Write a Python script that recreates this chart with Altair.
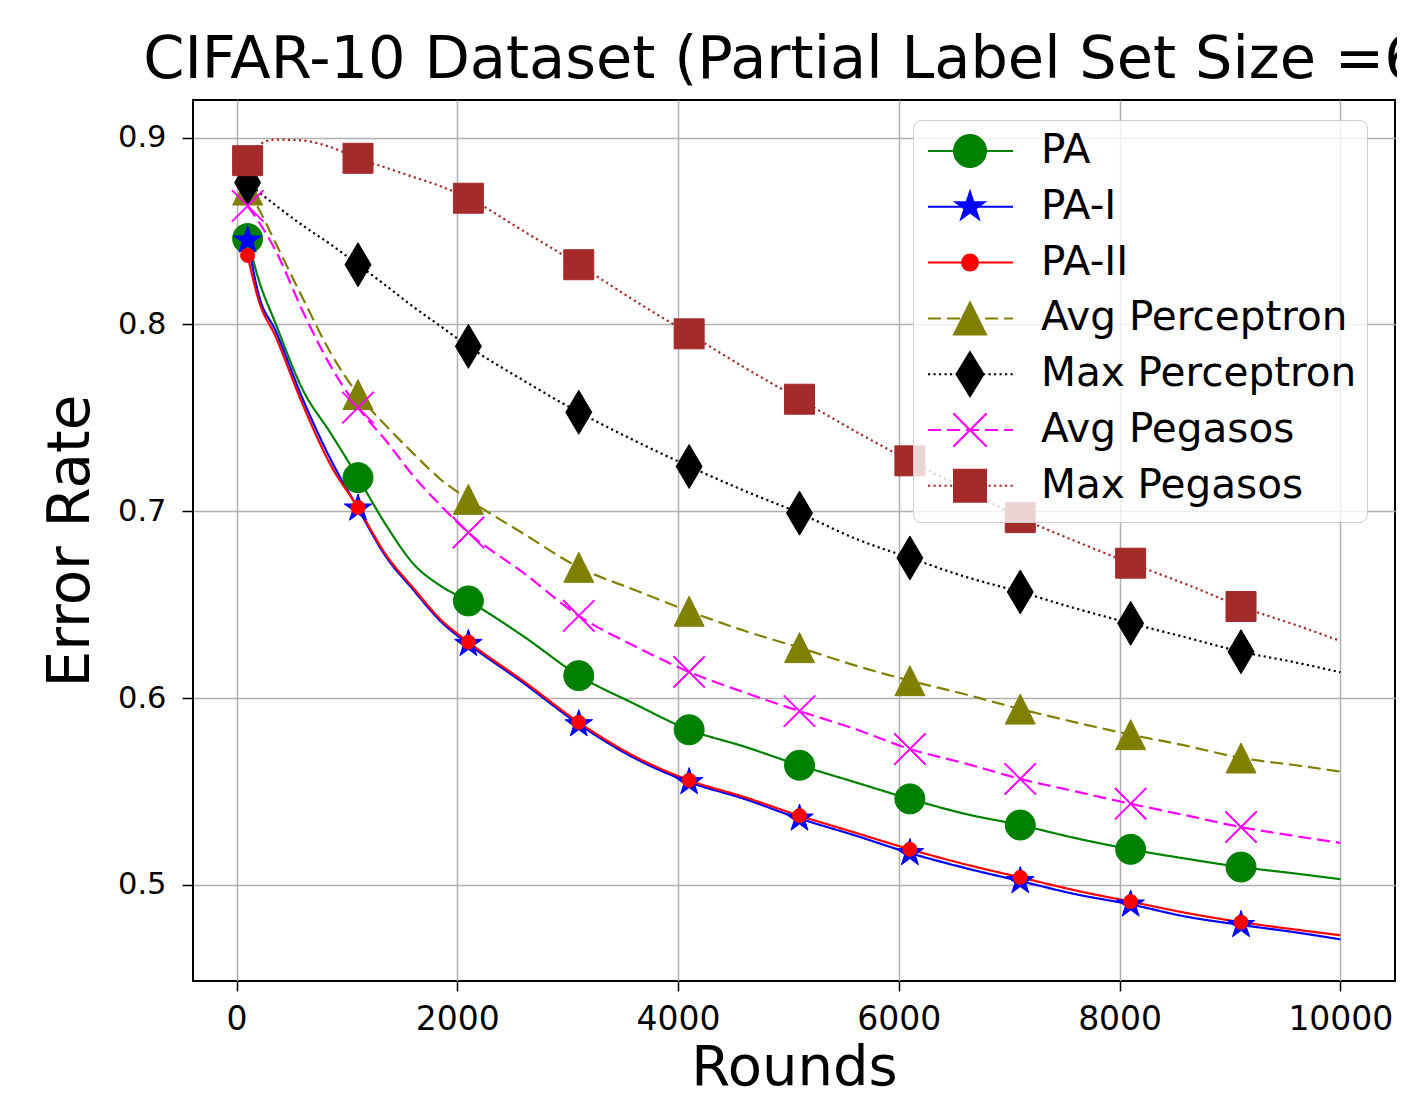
import math
import altair as alt
import pandas as pd

# ---------------- data ----------------
SERIES = ["PA", "PA-I", "PA-II", "Avg Perceptron", "Max Perceptron", "Avg Pegasos", "Max Pegasos"]
ROUNDS = [100, 200, 350, 600, 850, 1100, 1350, 1600, 1850, 2100, 2600, 3100, 3600, 4100,
          4600, 5100, 5600, 6100, 6600, 7100, 7600, 8100, 8600, 9100, 9600, 10000]
MARKER_ROUNDS = [100, 1100, 2100, 3100, 4100, 5100, 6100, 7100, 8100, 9100]

PA = [0.846, 0.824, 0.801, 0.765, 0.742, 0.718, 0.693, 0.672, 0.660, 0.652, 0.633, 0.612, 0.597,
      0.583, 0.574, 0.564, 0.555, 0.546, 0.538, 0.532, 0.525, 0.519, 0.514, 0.5095, 0.506, 0.503]
PA_I = [0.845, 0.816, 0.797, 0.760, 0.728, 0.7015, 0.676, 0.658, 0.641, 0.629, 0.608, 0.586, 0.568,
        0.555, 0.546, 0.5355, 0.5265, 0.517, 0.509, 0.502, 0.495, 0.4895, 0.483, 0.4785, 0.4745, 0.4708]
PA_II = [0.837, 0.813, 0.794, 0.757, 0.725, 0.702, 0.677, 0.659, 0.642, 0.630, 0.609, 0.587, 0.569,
         0.556, 0.547, 0.537, 0.528, 0.519, 0.511, 0.504, 0.497, 0.491, 0.485, 0.480, 0.476, 0.473]
AVG_PERCEPTRON = [0.872, 0.862, 0.844, 0.814, 0.785, 0.7625, 0.746, 0.731, 0.717, 0.7064, 0.688, 0.670,
                  0.658, 0.6465, 0.636, 0.627, 0.6175, 0.6093, 0.602, 0.5941, 0.587, 0.5804, 0.5745,
                  0.5679, 0.564, 0.5606]
MAX_PERCEPTRON = [0.876, 0.871, 0.864, 0.853, 0.843, 0.832, 0.821, 0.8095, 0.799, 0.7883, 0.770, 0.753,
                  0.738, 0.724, 0.711, 0.699, 0.6855, 0.675, 0.665, 0.6568, 0.648, 0.640, 0.6325,
                  0.6248, 0.619, 0.6138]
AVG_PEGASOS = [0.8635, 0.855, 0.840, 0.807, 0.778, 0.7555, 0.738, 0.719, 0.703, 0.6886, 0.667, 0.644,
               0.628, 0.614, 0.603, 0.593, 0.5835, 0.5727, 0.565, 0.5567, 0.550, 0.5434, 0.5372,
               0.5309, 0.526, 0.5225]
MAX_PEGASOS = [0.8877, 0.896, 0.899, 0.8985, 0.895, 0.889, 0.884, 0.879, 0.874, 0.8676, 0.850, 0.832,
               0.813, 0.795, 0.777, 0.760, 0.743, 0.727, 0.712, 0.6966, 0.684, 0.6722, 0.661, 0.649,
               0.639, 0.6306]

VALUES = [PA, PA_I, PA_II, AVG_PERCEPTRON, MAX_PERCEPTRON, AVG_PEGASOS, MAX_PEGASOS]
X_TICKS = [0, 2000, 4000, 6000, 8000, 10000]
Y_TICKS = [0.5, 0.6, 0.7, 0.8, 0.9]

# ---------------- styles ----------------
COLORS = ["#008000", "#0000ff", "#ff0000", "#808000", "#000000", "#ff00ff", "#a52a2a"]
DASH = [13, 6]
DOT = [2.2, 3.3]
DASHES = [[1, 0], [1, 0], [1, 0], DASH, DOT, DASH, DOT]


def circle(r, cx=0.0):
    return (f"M{cx + r:.3f},0A{r:.3f},{r:.3f},0,1,1,{cx - r:.3f},0"
            f"A{r:.3f},{r:.3f},0,1,1,{cx + r:.3f},0Z")


def poly(pts, cx=0.0):
    return "M" + "L".join(f"{cx + x:.3f},{y:.3f}" for x, y in pts) + "Z"


def star(R, cx=0.0):
    pts = []
    for k in range(10):
        rad = R if k % 2 == 0 else R * 0.382
        a = math.radians(-90 + 36 * k)
        pts.append((rad * math.cos(a), rad * math.sin(a)))
    return poly(pts, cx)


def xpoly(h, t, cx=0.0):
    L = h * math.sqrt(2)
    plus = [(-t, -L), (t, -L), (t, -t), (L, -t), (L, t), (t, t), (t, L), (-t, L), (-t, t),
            (-L, t), (-L, -t), (-t, -t)]
    c, s = math.cos(math.pi / 4), math.sin(math.pi / 4)
    return poly([(x * c - y * s, x * s + y * c) for x, y in plus], cx)


def seg_line(x0, x1, pattern, scale):
    if pattern is None:
        return f"M{x0:.3f},0H{x1:.3f}"
    on, off = pattern[0] / scale, pattern[1] / scale
    out, x = [], x0
    while x < x1 - 1e-6:
        e = min(x + on, x1)
        out.append(f"M{x:.3f},0H{e:.3f}")
        x += on + off
    return "".join(out)


# plot markers: mark size 4 -> path units are pixels
PLOT_SHAPES = [circle(15), star(14.5), circle(7), poly([(0, -15), (15, 15), (-15, 15)]),
               poly([(0, -22), (13, 0), (0, 22), (-13, 0)]), xpoly(15.5, 0.6),
               poly([(-15, -15), (15, -15), (15, 15), (-15, 15)])]

# legend glyphs: line + marker, 20 px per unit, marker centre shifted right
U = 20.0
C = 1.3
L0, L1 = C - 2.1, C + 2.15
E = 1.1
LEG_PATTERNS = [None, None, None, DASH, DOT, DASH, DOT]
LEG_MARKERS = [circle(16 / U, C), star(15 / U, C), circle(8 / U, C),
               poly([(0, -16 / U), (16 / U, 16 / U), (-16 / U, 16 / U)], C),
               poly([(0, -22 / U), (13.5 / U, 0), (0, 22 / U), (-13.5 / U, 0)], C),
               xpoly(16 / U, 0.05 / U, C),
               poly([(-16 / U, -16 / U), (16 / U, -16 / U), (16 / U, 16 / U), (-16 / U, 16 / U)], C)]
BOUND = f"M{C:.3f},{-E:.3f}M{C:.3f},{E:.3f}"
LEG_SHAPES = [BOUND + seg_line(L0, L1, p, U) + m for p, m in zip(LEG_PATTERNS, LEG_MARKERS)]

# ---------------- tables ----------------
rows = []
for s, vals in zip(SERIES, VALUES):
    for r, v in zip(ROUNDS, vals):
        rows.append({"series": s, "label": s, "order": SERIES.index(s), "round": r, "err": v})
df = pd.DataFrame(rows)
markers = df[df["round"].isin(MARKER_ROUNDS)].sort_values(["order", "round"]).reset_index(drop=True)

FONT = "DejaVu Sans"
x_enc = alt.X("round:Q", scale=alt.Scale(domain=[-395, 10495], nice=False, zero=False),
              axis=alt.Axis(values=X_TICKS, title="Rounds", format="d",
                            labelFontSize=33, titleFontSize=56, labelPadding=12,
                            tickSize=10, titlePadding=4))
y_enc = alt.Y("err:Q", scale=alt.Scale(domain=[0.4485, 0.9202], nice=False, zero=False),
              axis=alt.Axis(values=Y_TICKS, title="Error Rate", format=".1f",
                            labelFontSize=30.5, titleFontSize=58, labelPadding=16,
                            tickSize=11, titlePadding=17))

lines = alt.Chart(df).mark_line(strokeWidth=2.2, interpolate="monotone").encode(
    x=x_enc, y=y_enc,
    color=alt.Color("series:N", scale=alt.Scale(domain=SERIES, range=COLORS), legend=None),
    strokeDash=alt.StrokeDash("series:N", scale=alt.Scale(domain=SERIES, range=DASHES), legend=None),
    detail="series:N",
    order="round:Q",
)

points = alt.Chart(markers).mark_point(opacity=1, size=4, strokeWidth=1).encode(
    x="round:Q", y="err:Q",
    fill=alt.Fill("series:N", scale=alt.Scale(domain=SERIES, range=COLORS), legend=None),
    stroke=alt.Stroke("series:N", scale=alt.Scale(domain=SERIES, range=COLORS), legend=None),
    shape=alt.Shape("series:N", scale=alt.Scale(domain=SERIES, range=PLOT_SHAPES), legend=None),
    order="order:Q",
)

legend = alt.Legend(
    title=None, orient="none", legendX=720, legendY=20,
    symbolSize=U * U * 4, symbolStrokeWidth=2, symbolOpacity=1,
    labelFont=FONT, labelFontSize=40.5, labelColor="black", labelOffset=76, labelLimit=700,
    rowPadding=3.8, padding=10,
    fillColor="rgba(255,255,255,0.8)", strokeColor="#cccccc", cornerRadius=8,
)

legend_layer = alt.Chart(markers).mark_point(opacity=1, filled=True).encode(
    x="round:Q", y="err:Q",
    fill=alt.Fill("label:N", scale=alt.Scale(domain=SERIES, range=COLORS), legend=legend),
    stroke=alt.Stroke("label:N", scale=alt.Scale(domain=SERIES, range=COLORS), legend=legend),
    shape=alt.Shape("label:N", scale=alt.Scale(domain=SERIES, range=LEG_SHAPES), legend=legend),
).transform_filter("datum.round < 0")

chart = alt.layer(lines, points, legend_layer).resolve_scale(
    color="independent", fill="independent", stroke="independent",
    shape="independent", strokeDash="independent",
).properties(
    width=1202, height=881,
    title=alt.TitleParams(
        text="CIFAR-10 Dataset (Partial Label Set Size =6)", font=FONT, fontSize=59,
        fontWeight="normal", color="black", anchor="middle", frame="group", offset=10,
    ),
    autosize=alt.AutoSizeParams(type="none"),
    padding={"left": 185, "top": 92, "right": 2, "bottom": 107},
).configure(
    font=FONT,
).configure_view(
    stroke="black", strokeWidth=2,
).configure_axis(
    labelFont=FONT, titleFont=FONT, labelColor="black", titleColor="black",
    titleFontWeight="normal", tickColor="black", tickWidth=1.5,
    domain=False, grid=True, gridColor="#b0b0b0", gridWidth=1.5,
)

chart.save("out.html", embed_options={"renderer": "svg", "actions": False})
